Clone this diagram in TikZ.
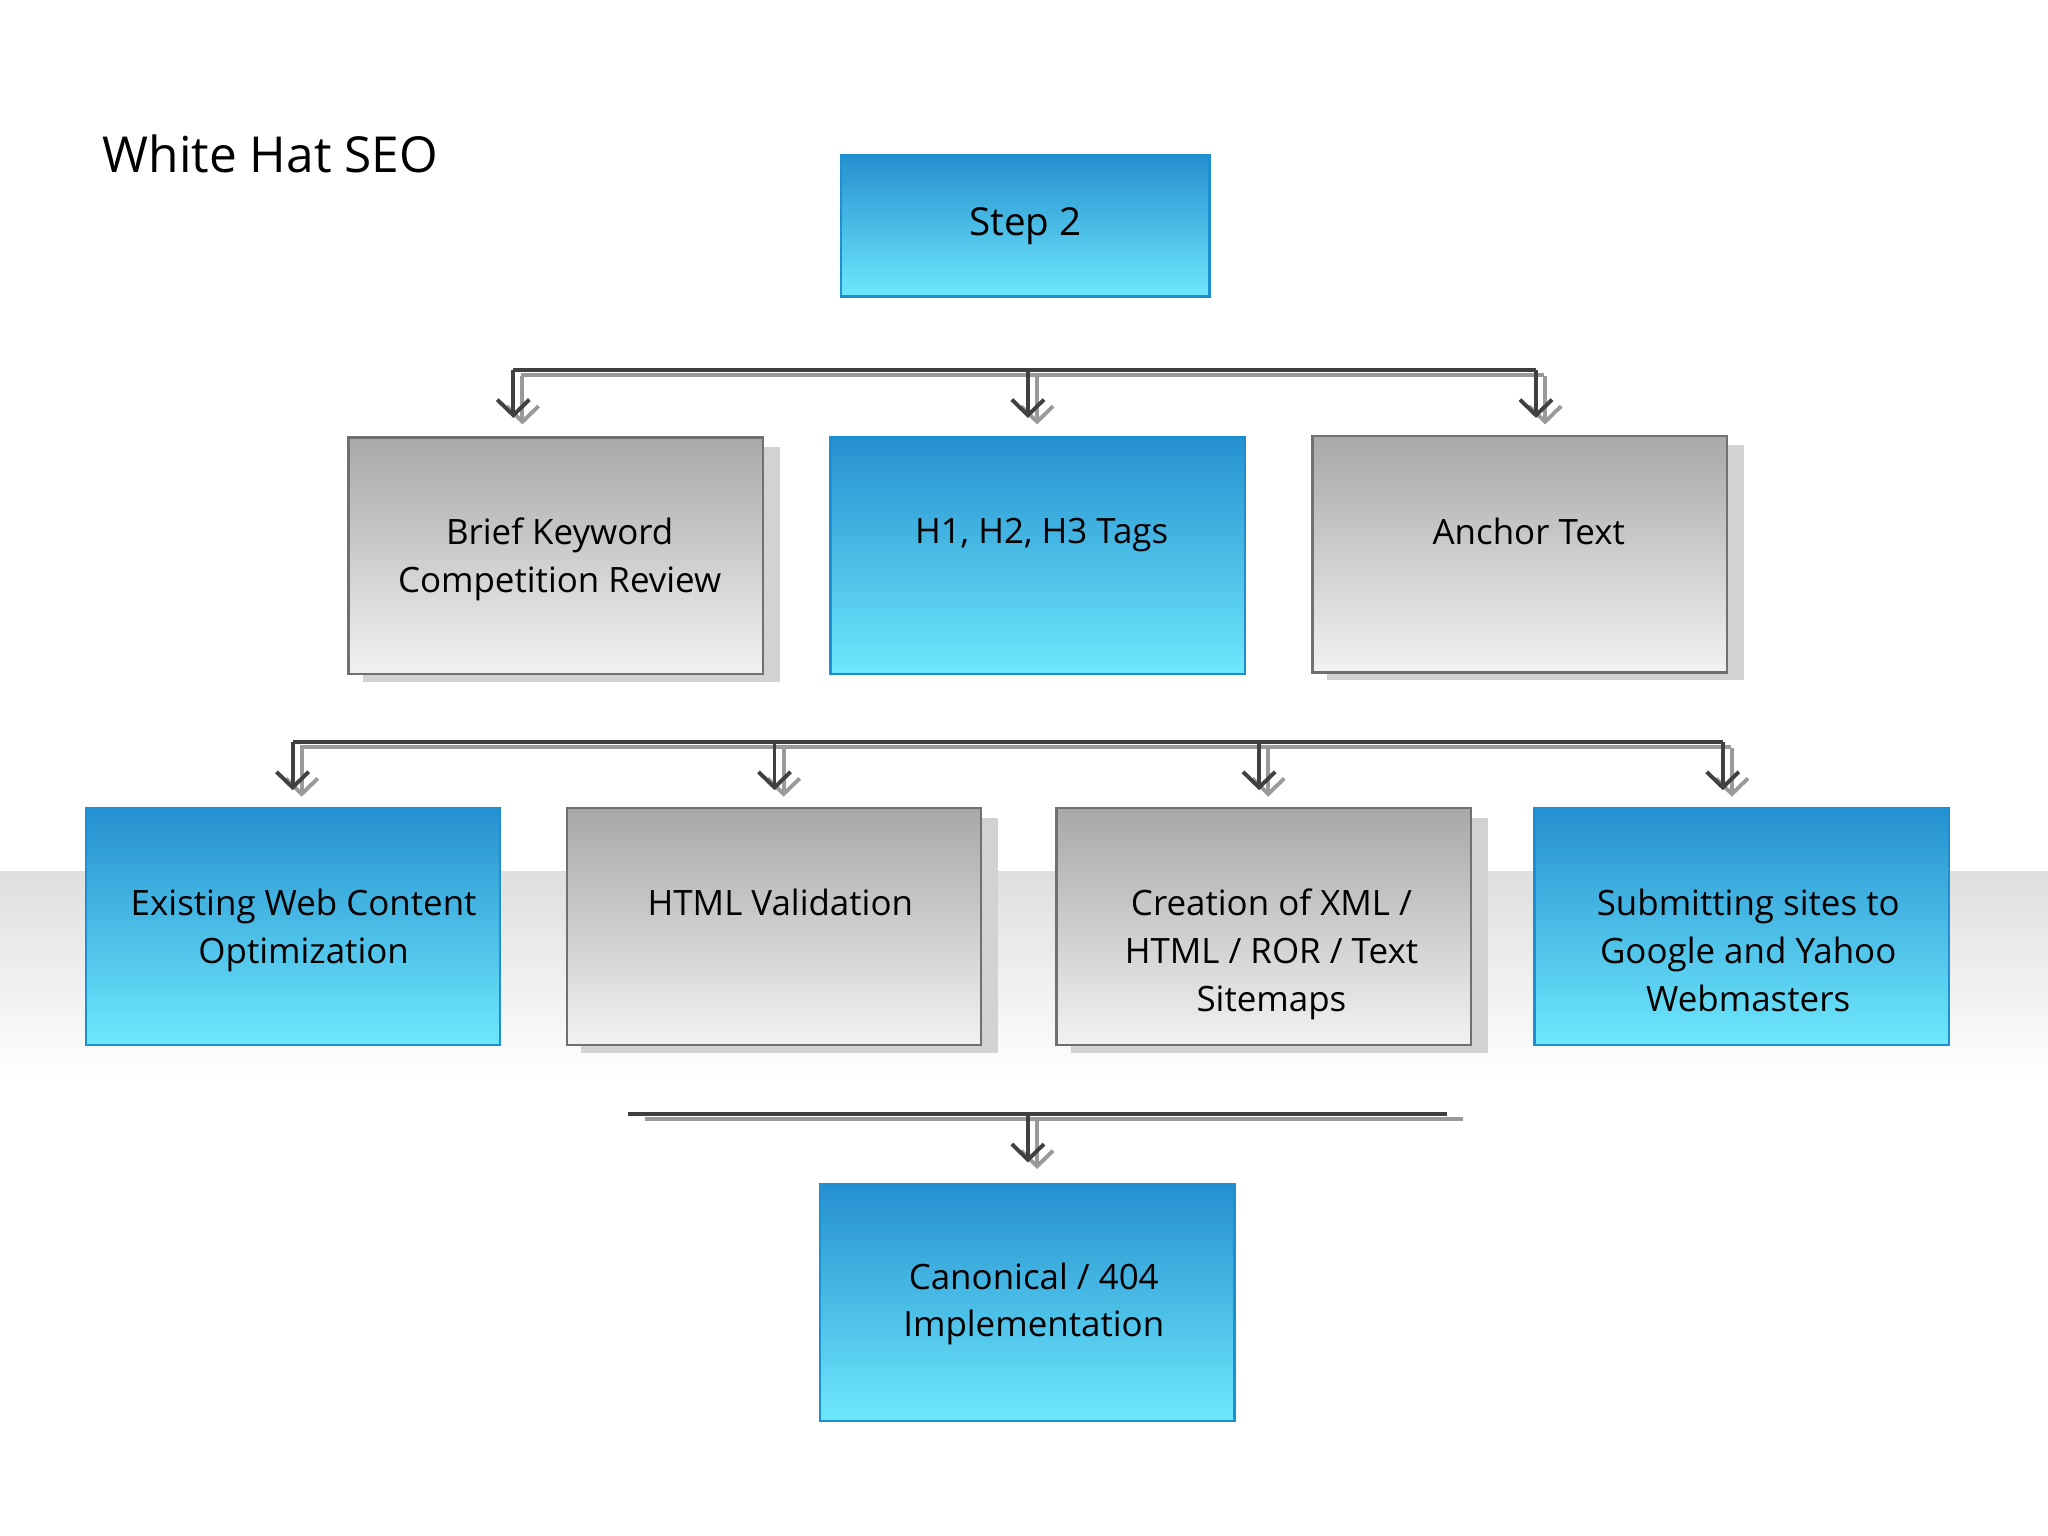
\documentclass[tikz,border=0pt]{standalone}
\usepackage{fontspec}
\setmainfont{Open Sans}
\usetikzlibrary{arrows.meta,calc}
\definecolor{btop}{HTML}{2590D0}
\definecolor{bbot}{HTML}{6EE8FC}
\definecolor{bline}{HTML}{1E8FD0}
\definecolor{gtop}{HTML}{A8A8A8}
\definecolor{gbot}{HTML}{F2F2F2}
\definecolor{gline}{HTML}{707070}
\definecolor{conn}{HTML}{404040}
\definecolor{connsh}{HTML}{9A9A9A}
\tikzset{
  x=0.01cm,y=-0.01cm,
  bluebox/.style={draw=bline,line width=0.5pt,top color=btop,bottom color=bbot,minimum width=3.17cm,minimum height=1.81cm,inner sep=0pt},
  graybox/.style={draw=gline,line width=0.5pt,top color=gtop,bottom color=gbot,minimum width=3.17cm,minimum height=1.81cm,inner sep=0pt},
  lbl/.style={anchor=north,align=center,font=\fontsize{7.6}{10.4}\selectfont,inner sep=0pt},
  wire/.style={draw=conn,line width=0.85pt},
  wiresh/.style={draw=connsh,line width=0.85pt},
  tipd/.style={wire,-{Straight Barb[length=3.4pt,width=7pt,line width=0.85pt]}},
  tips/.style={wiresh,-{Straight Barb[length=3.4pt,width=7pt,line width=0.85pt]}},
}
\newcommand{\gshadow}[1]{\fill[gray!35] ($(#1.south west)+(12,5)$) rectangle ($(#1.north east)+(12,8)$);}
\newcommand{\drop}[3]{% x, ytop, yend
  \coordinate (s#1a) at (#1+7,#2+5); \coordinate (s#1b) at (#1+7,#3+5);
  \draw[tips] (s#1a) -- (s#1b);
  \coordinate (d#1a) at (#1,#2); \coordinate (d#1b) at (#1,#3);
  \draw[tipd] (d#1a) -- (d#1b);}
\begin{document}
\begin{tikzpicture}
\useasboundingbox (0,0) rectangle (1568,1176);
\fill[white] (0,0) rectangle (1568,1176);
\shade[top color=gray!25,bottom color=white] (0,667) rectangle (1568,830);
\node[anchor=west,font=\fontsize{10.8}{13}\selectfont,inner sep=0pt] (title) at (78,118) {White Hat SEO};
% step 2
\node[bluebox,minimum width=2.82cm,minimum height=1.08cm,font=\fontsize{8.4}{10}\selectfont] (step) at (785,173) {Step 2};
% row 1
\path (266,334) coordinate (t1);
\node[graybox,anchor=north west] (r1a) at (266,334) {};
\node[bluebox,anchor=north west] (r1b) at (635,334) {};
\node[graybox,anchor=north west] (r1c) at (1004,333) {};
% row 2
\node[bluebox,anchor=north west] (r2a) at (65,618) {};
\node[graybox,anchor=north west] (r2b) at (433,618) {};
\node[graybox,anchor=north west] (r2c) at (808,618) {};
\node[bluebox,anchor=north west] (r2d) at (1174,618) {};
% bottom
\node[bluebox,anchor=north west] (r3) at (627,906) {};
\begin{scope}[on background layer/.style={}]
\end{scope}
% shadows drawn then boxes redrawn on top
\gshadow{r1a}\gshadow{r1c}\gshadow{r2b}\gshadow{r2c}
\node[graybox,anchor=north west] at (266,334) {};
\node[graybox,anchor=north west] at (1004,333) {};
\node[graybox,anchor=north west] at (433,618) {};
\node[graybox,anchor=north west] at (808,618) {};
% labels
\node[lbl] (l1a) at ($(r1a.north)+(3,62)$) {Brief Keyword\\Competition Review};
\node[lbl] (l1b) at ($(r1b.north)+(3,62)$) {H1, H2, H3 Tags};
\node[lbl] (l1c) at ($(r1c.north)+(7,63)$) {Anchor Text};
\node[lbl] (l2a) at ($(r2a.north)+(8,62)$) {Existing Web Content\\Optimization};
\node[lbl] (l2b) at ($(r2b.north)+(5,62)$) {HTML Validation};
\node[lbl] (l2c) at ($(r2c.north)+(6,62)$) {Creation of XML /\\HTML / ROR / Text\\Sitemaps};
\node[lbl] (l2d) at ($(r2d.north)+(5,62)$) {Submitting sites to\\Google and Yahoo\\Webmasters};
\node[lbl] (l3) at ($(r3.north)+(5,60)$) {Canonical / 404\\Implementation};
% bus 1
\coordinate (b1l) at (393,283); \coordinate (b1r) at (1176,283);
\coordinate (b1ls) at (399,287); \coordinate (b1rs) at (1182,287);
\draw[wiresh] (b1ls) -- (b1rs);
\draw[wire] (b1l) -- (b1r);
\drop{393}{283}{320}\drop{787}{283}{320}\drop{1176}{283}{320}
% bus 2
\coordinate (b2l) at (224,568); \coordinate (b2r) at (1319,568);
\coordinate (b2ls) at (230,572); \coordinate (b2rs) at (1325,572);
\draw[wiresh] (b2ls) -- (b2rs);
\draw[wire] (b2l) -- (b2r);
\drop{224}{568}{605}\drop{593}{568}{605}\drop{964}{568}{605}\drop{1319}{568}{605}
% bus 3
\coordinate (b3l) at (481,853); \coordinate (b3r) at (1108,853);
\coordinate (b3ls) at (494,857); \coordinate (b3rs) at (1120,857);
\draw[wiresh] (b3ls) -- (b3rs);
\draw[wire] (b3l) -- (b3r);
\drop{787}{853}{890}
\end{tikzpicture}
\end{document}
